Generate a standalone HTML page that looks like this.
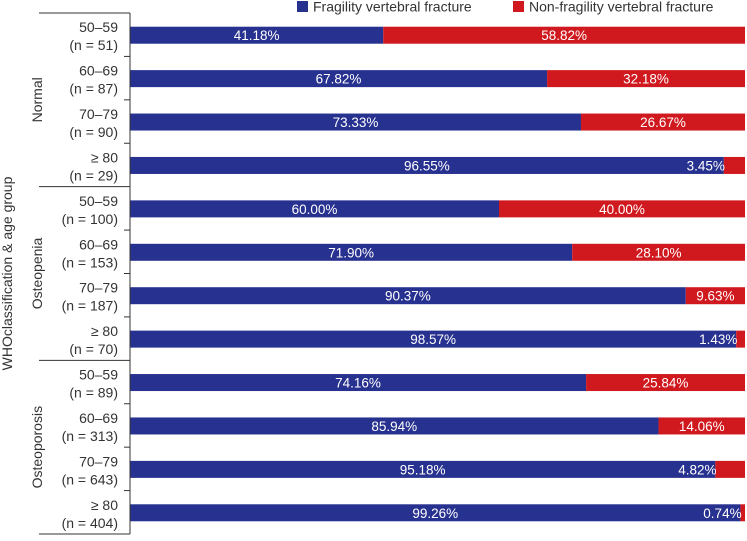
<!DOCTYPE html>
<html><head><meta charset="utf-8"><style>
body{margin:0;background:#fff}
svg text{font-family:"Liberation Sans",sans-serif}
</style></head><body>
<svg id="chart" width="747" height="536" xmlns="http://www.w3.org/2000/svg">
<g>
<rect x="297" y="1" width="11" height="11" fill="#27318f"/>
<text x="313" y="11.5" font-size="14" fill="#333">Fragility vertebral fracture</text>
<rect x="513" y="1" width="11" height="11" fill="#d0191e"/>
<text x="529" y="11.5" font-size="14" fill="#333">Non-fragility vertebral fracture</text>
</g>
<g id="plot"></g>
</svg>
<script>
const ageLabels=["50–59","60–69","70–79","≥ 80","50–59","60–69","70–79","≥ 80","50–59","60–69","70–79","≥ 80"];
const nLabels=["(n = 51)","(n = 87)","(n = 90)","(n = 29)","(n = 100)","(n = 153)","(n = 187)","(n = 70)","(n = 89)","(n = 313)","(n = 643)","(n = 404)"];
const groups=["Normal","Osteopenia","Osteoporosis"];
const fragility=[41.18,67.82,73.33,96.55,60.00,71.90,90.37,98.57,74.16,85.94,95.18,99.26];
const nonFragility=[58.82,32.18,26.67,3.45,40.00,28.10,9.63,1.43,25.84,14.06,4.82,0.74];
const NS="http://www.w3.org/2000/svg";
const plotG=document.getElementById('plot');
const x0=130,x1=745,plotTop=13,plotBot=534,rowH=(plotBot-plotTop)/12,barH=17;
const xs=v=>x0+(x1-x0)*v/100;
const ys=i=>plotTop+i*rowH;
function mk(t,a){const e=document.createElementNS(NS,t);for(const k in a)e.setAttribute(k,a[k]);plotG.appendChild(e);return e;}
fragility.forEach((f,i)=>{
 const yc=ys(i)+rowH/2+0.5;
 const r1=mk('rect',{x:xs(0),y:yc-barH/2,width:xs(f)-xs(0),height:barH,fill:'#27318f'});
 
 
 const r2=mk('rect',{x:xs(f),y:yc-barH/2,width:xs(f+nonFragility[i])-xs(f),height:barH,fill:'#d0191e'});
 
 
 const t1=mk('text',{x:(xs(0)+xs(f))/2,y:yc+5,'font-size':13.5,fill:'#fff','text-anchor':'middle'});
 t1.textContent=f.toFixed(2)+'%';
 
 
 const nf=nonFragility[i];
 const cx=nf<6?xs(f)-18:(xs(f)+xs(f+nf))/2;
 const t2=mk('text',{x:cx,y:yc+5,'font-size':13.5,fill:'#fff','text-anchor':'middle'});
 t2.textContent=nf.toFixed(2)+'%';
 
 
 const a=mk('text',{x:118,y:yc-3,'font-size':14,fill:'#333','text-anchor':'end'});
 a.textContent=ageLabels[i];
 
 
 const n=mk('text',{x:118,y:yc+15,'font-size':14,fill:'#333','text-anchor':'end'});
 n.textContent=nLabels[i];
 
 
 if(i%4!==0){const tk=mk('line',{x1:124,x2:x0,y1:ys(i),y2:ys(i),stroke:'#333','stroke-width':1});
 
 }
});
for(let j=0;j<=3;j++){
 const l=mk('line',{x1:39,x2:x0,y1:ys(j*4),y2:ys(j*4),stroke:'#333','stroke-width':1});
 
 
}
groups.forEach((gn,j)=>{
 const cy=(ys(j*4)+ys(j*4+4))/2;
 const t=mk('text',{x:0,y:0,'font-size':14,fill:'#333','text-anchor':'middle',transform:`translate(42 ${cy}) rotate(-90)`});
 t.textContent=gn;
 
 
});
const ax=mk('line',{x1:x0,x2:x0,y1:plotTop,y2:plotBot,stroke:'#333','stroke-width':1});


const yt=mk('text',{x:0,y:0,'font-size':14,fill:'#333','text-anchor':'middle',transform:`translate(12 ${(plotTop+plotBot)/2}) rotate(-90)`});
yt.textContent='WHOclassification & age group';


</script>
</body></html>
